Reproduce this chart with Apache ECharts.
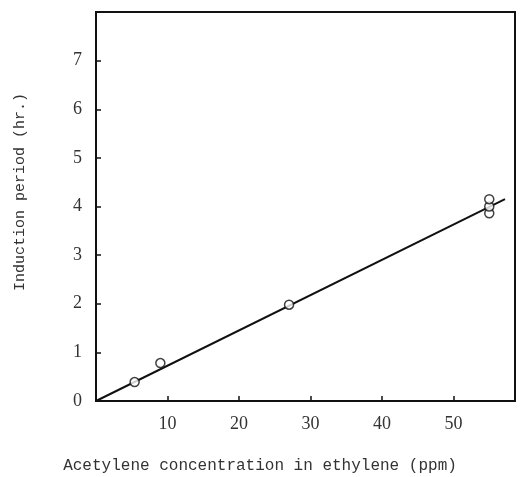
<!DOCTYPE html>
<html><head><meta charset="utf-8">
<script src="https://cdn.jsdelivr.net/npm/echarts@6/dist/echarts.min.js"></script>
<style>html,body{margin:0;padding:0;background:#fff}#c{width:520px;height:477px}</style>
</head><body><div id="c"></div>
<script>
const concentration = [5.4, 9.0, 27.0, 55.0, 55.0, 55.0];
const inductionPeriod = [0.39, 0.78, 1.98, 3.86, 4.0, 4.15];
const fitLineX = [0, 57.2];
const fitLineY = [0, 4.15];
const xTitle = 'Acetylene concentration in ethylene (ppm)';
const yTitle = 'Induction period (hr.)';

const points = concentration.map((x, i) => [x, inductionPeriod[i]]);
const fit = fitLineX.map((x, i) => [x, fitLineY[i]]);
const font = 'Liberation Serif';
const titleFont = 'Liberation Mono';
const chart = echarts.init(document.getElementById('c'));
chart.setOption({
  animation: false,
  backgroundColor: '#fff',
  grid: {left: 96, right: 5, top: 12, bottom: 76, show: true, borderColor: '#111', borderWidth: 2, containLabel: false},
  graphic: [
    {type: 'text', left: 'center', x: 0, top: 458,
     style: {text: xTitle, x: 0, fontFamily: titleFont, fontSize: 16, fill: '#333'}},
    {type: 'text', x: 20, y: 192, rotation: Math.PI / 2,
     style: {text: yTitle, fontFamily: titleFont, fontSize: 15, fill: '#333', align: 'center', verticalAlign: 'middle'}}
  ],
  xAxis: {
    type: 'value', min: 0, max: 58.6, interval: 10,
    axisLine: {show: true, lineStyle: {color: '#111', width: 2}},
    axisTick: {show: true, inside: true, length: 5, lineStyle: {color: '#111', width: 1.5}},
    axisLabel: {showMinLabel: false, showMaxLabel: false, margin: 14, fontFamily: font, fontSize: 18, color: '#333'},
    splitLine: {show: false}
  },
  yAxis: {
    type: 'value', min: 0, max: 8, interval: 1,
    axisLine: {show: true, lineStyle: {color: '#111', width: 2}},
    axisTick: {show: true, inside: true, length: 5, lineStyle: {color: '#111', width: 1.5}},
    axisLabel: {showMaxLabel: false, margin: 14, fontFamily: font, fontSize: 18, color: '#333'},
    splitLine: {show: false}
  },
  series: [
    {type: 'line', data: fit, showSymbol: false, symbol: 'none', lineStyle: {color: '#111', width: 2}, z: 2},
    {type: 'scatter', data: points, symbol: 'circle', symbolSize: 9,
     itemStyle: {color: '#fff', borderColor: '#111', borderWidth: 1.5}, z: 3}
  ]
});
</script></body></html>
